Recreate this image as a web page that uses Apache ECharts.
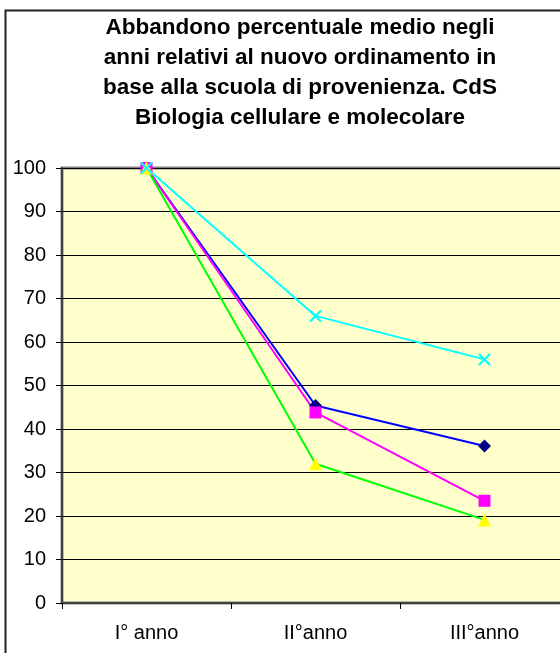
<!DOCTYPE html>
<html lang="it">
<head>
    <meta charset="UTF-8">
    <title>Abbandono percentuale medio</title>
    <script src="https://cdn.jsdelivr.net/npm/echarts@6/dist/echarts.min.js"></script>
    <style>
        html, body {
            margin: 0;
            padding: 0;
            overflow: hidden;
            background: #fff;
        }
        #chart {
            width: 600px;   /* il grafico originale è più largo della finestra e viene tagliato a destra */
            height: 653px;
        }
    </style>
</head>
<body>
    <div id="chart"></div>
    <script>
        // dati
        var anni = ['I° anno', 'II°anno', 'III°anno'];
        var serieBlu = [100, 45.4, 36.1];
        var serieMagenta = [100, 43.8, 23.5];
        var serieVerde = [100, 32, 19.1];
        var serieCiano = [100, 66, 56];
        var yTicks = [0, 10, 20, 30, 40, 50, 60, 70, 80, 90, 100];

        // una X piena per il marker della quarta serie
        var simboloX = 'path://M0,0 L1.5,0 L6,4.5 L10.5,0 L12,0 L12,1.5 L7.5,6 L12,10.5 L12,12 L10.5,12 L6,7.5 L1.5,12 L0,12 L0,10.5 L4.5,6 L0,1.5 Z';

        var font = 'Liberation Sans, Arial, sans-serif';
        var myChart = echarts.init(document.getElementById('chart'));

        function serie(dati, coloreLinea, coloreMarker, simbolo, size) {
            return {
                type: 'line',
                data: dati,
                symbol: simbolo,
                symbolSize: size,
                showAllSymbol: true,
                lineStyle: { color: coloreLinea, width: 2 },
                itemStyle: { color: coloreMarker, borderWidth: 0 },
                emphasis: { disabled: true },
                animation: false
            };
        }

        var option = {
            animation: false,
            title: {
                text: 'Abbandono percentuale medio negli\nanni relativi al nuovo ordinamento in\nbase alla scuola di provenienza. CdS\nBiologia cellulare e molecolare',
                left: 'center',
                top: 13,
                padding: 0,
                textStyle: {
                    fontFamily: font,
                    fontSize: 22.5,
                    fontWeight: 'bold',
                    lineHeight: 30,
                    color: '#000'
                }
            },
            graphic: [{
                // cornice esterna dell'area del grafico
                type: 'rect',
                shape: { x: 5.5, y: 10.5, width: 700, height: 700 },
                style: { fill: 'none', stroke: '#222', lineWidth: 2 },
                silent: true
            }],
            grid: {
                left: 62,
                top: 168,
                right: 31,
                bottom: 50,
                show: true,
                backgroundColor: '#FFFFCC',
                borderColor: '#808080',
                borderWidth: 3
            },
            xAxis: {
                type: 'category',
                data: anni,
                boundaryGap: true,
                axisLine: { lineStyle: { color: '#404040', width: 2 } },
                axisTick: { show: true, length: 6, lineStyle: { color: '#000', width: 1 } },
                axisLabel: { color: '#000', fontFamily: font, fontSize: 20, margin: 20 },
                splitLine: { show: false }
            },
            yAxis: {
                type: 'value',
                min: yTicks[0],
                max: yTicks[yTicks.length - 1],
                interval: 10,
                axisLine: { show: true, lineStyle: { color: '#404040', width: 2 } },
                axisTick: { show: true, length: 6, lineStyle: { color: '#000', width: 1 } },
                axisLabel: { color: '#000', fontFamily: font, fontSize: 20, margin: 16 },
                splitLine: { show: true, lineStyle: { color: '#000', width: 1 } }
            },
            series: [
                serie(serieBlu, '#0000FF', '#000080', 'diamond', 13),
                serie(serieMagenta, '#FF00FF', '#FF00FF', 'rect', 12),
                serie(serieVerde, '#00FF00', '#FFFF00', 'triangle', 13),
                serie(serieCiano, '#00FFFF', '#00FFFF', simboloX, 12)
            ]
        };

        myChart.setOption(option);
    </script>
</body>
</html>
